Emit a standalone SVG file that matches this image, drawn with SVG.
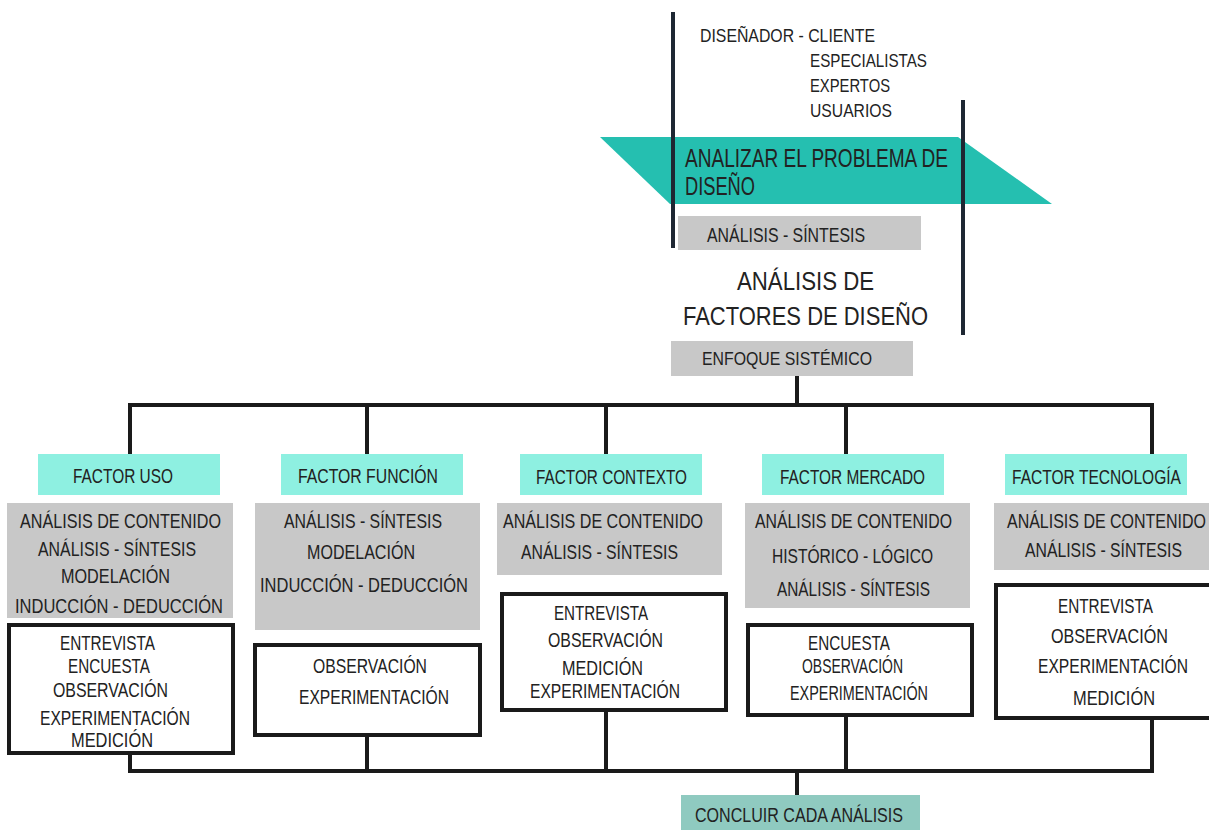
<svg xmlns="http://www.w3.org/2000/svg" width="1209" height="830" viewBox="0 0 1209 830">
<style>
text{font-family:"Liberation Sans",Arial,sans-serif;fill:#222;}
.s18{font-size:18px}.s20{font-size:21px}.s21{font-size:21px}.s25{font-size:25px}.s26{font-size:26px}.s19{font-size:19px}
.gray{fill:#c8c8c8}
.aqua{fill:#8ef0e1}
.wbox{fill:#fff;stroke:#1a1a1a;stroke-width:4}
.conn{fill:none;stroke:#1a1a1a;stroke-width:4}
.vline{stroke:#1e2733;stroke-width:4}
.end{text-anchor:end}
</style>
<rect width="1209" height="830" fill="#fff"/>

<g id="analizar">
<polygon points="600,137 958,137 1052,204 670,204" fill="#25bfb0"/>
<text class="s25" x="685" y="167" textLength="263" lengthAdjust="spacingAndGlyphs">ANALIZAR EL PROBLEMA DE</text>
<text class="s25" x="685" y="195" textLength="70" lengthAdjust="spacingAndGlyphs">DISEÑO</text>
</g>

<g id="participantes">
<text class="s18" x="700" y="42" textLength="175" lengthAdjust="spacingAndGlyphs">DISEÑADOR - CLIENTE</text>
<text class="s18" x="810" y="67" textLength="117" lengthAdjust="spacingAndGlyphs">ESPECIALISTAS</text>
<text class="s18" x="810" y="92" textLength="80" lengthAdjust="spacingAndGlyphs">EXPERTOS</text>
<text class="s18" x="810" y="117" textLength="82" lengthAdjust="spacingAndGlyphs">USUARIOS</text>
</g>

<g id="analisis-sintesis-top">
<rect class="gray" x="678" y="216" width="243" height="34"/>
<text class="s21" x="707" y="242" textLength="158" lengthAdjust="spacingAndGlyphs">ANÁLISIS - SÍNTESIS</text>
</g>

<g id="brackets">
<line class="vline" x1="673" y1="12" x2="673" y2="248"/>
<line class="vline" x1="963" y1="100" x2="963" y2="335"/>
</g>

<g id="titulo">
<text class="s26" x="737" y="290" textLength="137" lengthAdjust="spacingAndGlyphs">ANÁLISIS DE</text>
<text class="s26" x="683" y="325" textLength="245" lengthAdjust="spacingAndGlyphs">FACTORES DE DISEÑO</text>
</g>

<g id="enfoque">
<rect class="gray" x="671" y="341" width="242" height="35"/>
<text class="s19" x="702" y="365" textLength="170" lengthAdjust="spacingAndGlyphs">ENFOQUE SISTÉMICO</text>
</g>

<g id="connectors">
<path class="conn" d="M797 376 V405"/>
<path class="conn" d="M130 455 V405 H1152 V455"/>
<path class="conn" d="M367 405 V455 M606 405 V455 M846 405 V455"/>
<path class="conn" d="M130 755 V771 H1152 V719"/>
<path class="conn" d="M367 737 V771 M606 712 V771 M846 717 V771 M797 771 V796"/>
</g>

<g id="factor-uso">
<rect class="aqua" x="38" y="454" width="182" height="41"/>
<text class="s20" x="73" y="483" textLength="100" lengthAdjust="spacingAndGlyphs">FACTOR USO</text>
<rect class="gray" x="7" y="503" width="226" height="115"/>
<text class="s21" x="20" y="528" textLength="201" lengthAdjust="spacingAndGlyphs">ANÁLISIS DE CONTENIDO</text>
<text class="s21" x="38" y="556" textLength="158" lengthAdjust="spacingAndGlyphs">ANÁLISIS - SÍNTESIS</text>
<text class="s21" x="61" y="583" textLength="109" lengthAdjust="spacingAndGlyphs">MODELACIÓN</text>
<text class="s21" x="15" y="613" textLength="208" lengthAdjust="spacingAndGlyphs">INDUCCIÓN - DEDUCCIÓN</text>
<rect class="wbox" x="9" y="625" width="224" height="128"/>
<text class="s20" x="60" y="650" textLength="95" lengthAdjust="spacingAndGlyphs">ENTREVISTA</text>
<text class="s20" x="68" y="673" textLength="82" lengthAdjust="spacingAndGlyphs">ENCUESTA</text>
<text class="s20" x="53" y="697" textLength="115" lengthAdjust="spacingAndGlyphs">OBSERVACIÓN</text>
<text class="s20" x="40" y="725" textLength="150" lengthAdjust="spacingAndGlyphs">EXPERIMENTACIÓN</text>
<text class="s20" x="71" y="747" textLength="82" lengthAdjust="spacingAndGlyphs">MEDICIÓN</text>
</g>

<g id="factor-funcion">
<rect class="aqua" x="281" y="454" width="182" height="41"/>
<text class="s20" x="298" y="483" textLength="140" lengthAdjust="spacingAndGlyphs">FACTOR FUNCIÓN</text>
<rect class="gray" x="255" y="503" width="225" height="127"/>
<text class="s21" x="284" y="528" textLength="158" lengthAdjust="spacingAndGlyphs">ANÁLISIS - SÍNTESIS</text>
<text class="s21" x="307" y="559" textLength="108" lengthAdjust="spacingAndGlyphs">MODELACIÓN</text>
<text class="s21" x="260" y="592" textLength="208" lengthAdjust="spacingAndGlyphs">INDUCCIÓN - DEDUCCIÓN</text>
<rect class="wbox" x="255" y="645" width="225" height="90"/>
<text class="s20" x="313" y="673" textLength="114" lengthAdjust="spacingAndGlyphs">OBSERVACIÓN</text>
<text class="s20" x="299" y="704" textLength="150" lengthAdjust="spacingAndGlyphs">EXPERIMENTACIÓN</text>
</g>

<g id="factor-contexto">
<rect class="aqua" x="520" y="454" width="182" height="41"/>
<text class="s20" x="536" y="484" textLength="151" lengthAdjust="spacingAndGlyphs">FACTOR CONTEXTO</text>
<rect class="gray" x="497" y="503" width="225" height="72"/>
<text class="s21" x="503" y="528" textLength="200" lengthAdjust="spacingAndGlyphs">ANÁLISIS DE CONTENIDO</text>
<text class="s21" x="521" y="559" textLength="157" lengthAdjust="spacingAndGlyphs">ANÁLISIS - SÍNTESIS</text>
<rect class="wbox" x="502" y="594" width="224" height="116"/>
<text class="s20" x="554" y="620" textLength="94" lengthAdjust="spacingAndGlyphs">ENTREVISTA</text>
<text class="s20" x="548" y="647" textLength="115" lengthAdjust="spacingAndGlyphs">OBSERVACIÓN</text>
<text class="s20" x="562" y="675" textLength="81" lengthAdjust="spacingAndGlyphs">MEDICIÓN</text>
<text class="s20" x="530" y="698" textLength="150" lengthAdjust="spacingAndGlyphs">EXPERIMENTACIÓN</text>
</g>

<g id="factor-mercado">
<rect class="aqua" x="762" y="454" width="182" height="41"/>
<text class="s20" x="780" y="484" textLength="145" lengthAdjust="spacingAndGlyphs">FACTOR MERCADO</text>
<rect class="gray" x="745" y="503" width="225" height="105"/>
<text class="s21" x="755" y="528" textLength="197" lengthAdjust="spacingAndGlyphs">ANÁLISIS DE CONTENIDO</text>
<text class="s21" x="772" y="563" textLength="161" lengthAdjust="spacingAndGlyphs">HISTÓRICO - LÓGICO</text>
<text class="s21" x="777" y="596" textLength="153" lengthAdjust="spacingAndGlyphs">ANÁLISIS - SÍNTESIS</text>
<rect class="wbox" x="748" y="625" width="224" height="90"/>
<text class="s20" x="808" y="650" textLength="82" lengthAdjust="spacingAndGlyphs">ENCUESTA</text>
<text class="s20" x="802" y="673" textLength="101" lengthAdjust="spacingAndGlyphs">OBSERVACIÓN</text>
<text class="s20" x="790" y="700" textLength="138" lengthAdjust="spacingAndGlyphs">EXPERIMENTACIÓN</text>
</g>

<g id="factor-tecnologia">
<rect class="aqua" x="1005" y="454" width="182" height="41"/>
<text class="s20 end" x="1181" y="484" textLength="169" lengthAdjust="spacingAndGlyphs">FACTOR TECNOLOGÍA</text>
<rect class="gray" x="994" y="503" width="215" height="67"/>
<text class="s21 end" x="1206" y="528" textLength="199" lengthAdjust="spacingAndGlyphs">ANÁLISIS DE CONTENIDO</text>
<text class="s21 end" x="1182" y="557" textLength="157" lengthAdjust="spacingAndGlyphs">ANÁLISIS - SÍNTESIS</text>
<rect class="wbox" x="996" y="585" width="230" height="133"/>
<text class="s20 end" x="1153" y="613" textLength="95" lengthAdjust="spacingAndGlyphs">ENTREVISTA</text>
<text class="s20 end" x="1168" y="643" textLength="117" lengthAdjust="spacingAndGlyphs">OBSERVACIÓN</text>
<text class="s20 end" x="1188" y="673" textLength="150" lengthAdjust="spacingAndGlyphs">EXPERIMENTACIÓN</text>
<text class="s20 end" x="1155" y="705" textLength="82" lengthAdjust="spacingAndGlyphs">MEDICIÓN</text>
</g>

<g id="concluir">
<rect x="681" y="795" width="239" height="35" fill="#8fcac0"/>
<text class="s20" x="695" y="822" textLength="208" lengthAdjust="spacingAndGlyphs">CONCLUIR CADA ANÁLISIS</text>
</g>
</svg>
